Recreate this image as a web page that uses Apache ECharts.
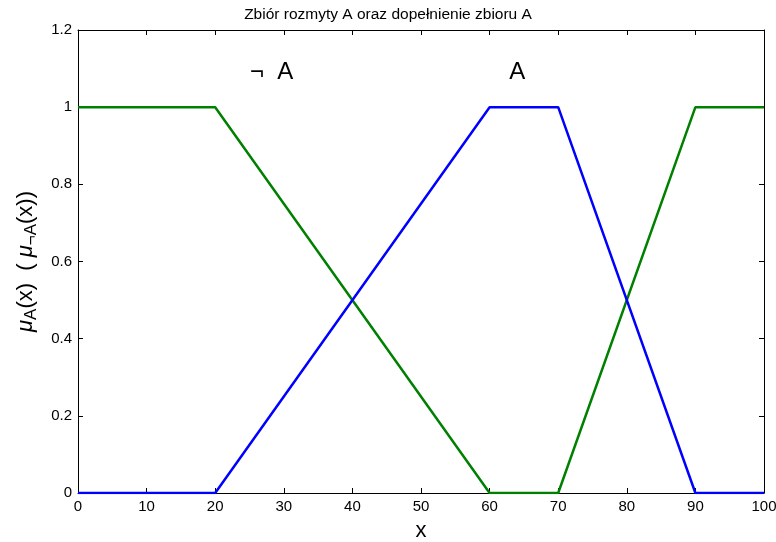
<!DOCTYPE html>
<html>
<head>
<meta charset="utf-8">
<script src="https://cdn.jsdelivr.net/npm/echarts@6/dist/echarts.min.js"></script>
<style>
  html, body { margin: 0; padding: 0; background: #fff; }
  #chart { width: 776px; height: 542px; }
</style>
</head>
<body>
<div id="chart"></div>
<script>
// Fuzzy set A and its complement (trapezoidal membership functions)
const xPoints = [0, 20, 60, 70, 90, 100];
const muA = [0, 0, 1, 1, 0, 0];
const muNotA = [1, 1, 0, 0, 1, 1];
const xTicks = [0, 10, 20, 30, 40, 50, 60, 70, 80, 90, 100];
const yTicks = [0, 0.2, 0.4, 0.6, 0.8, 1, 1.2];
const setLabels = [
  { x: 25, y: 1.09, text: '¬  A' },
  { x: 62.8, y: 1.09, text: 'A' }
];

const font = '"Liberation Sans Narrow", "Liberation Sans", Arial, sans-serif';
const sans = '"Liberation Sans", Arial, sans-serif';
const pairs = (ys) => xPoints.map((x, i) => [x, ys[i]]);

const axisCommon = {
  type: 'value',
  axisLine: { show: true, onZero: false, lineStyle: { color: '#000', width: 1 } },
  axisTick: { show: true, inside: true, length: 5, lineStyle: { color: '#000' } },
  splitLine: { show: false }
};

const chart = echarts.init(document.getElementById('chart'));
chart.setOption({
  animation: false,
  backgroundColor: '#fff',
  title: {
    text: 'Zbiór rozmyty A oraz dopełnienie zbioru A',
    left: 'center',
    top: 2,
    textStyle: { fontFamily: font, fontSize: 15.5, fontWeight: 'normal', color: '#000' }
  },
  grid: { left: 78, right: 12, top: 30, bottom: 49, outerBoundsMode: 'none', containLabel: false },
  xAxis: [
    Object.assign({}, axisCommon, {
      min: 0, max: 100, interval: 10,
      position: 'bottom',
      name: 'x',
      nameLocation: 'middle',
      nameGap: 27,
      nameTextStyle: { fontFamily: sans, fontSize: 22, color: '#000' },
      axisLabel: { color: '#000', fontFamily: font, fontSize: 15, margin: 6 }
    }),
    Object.assign({}, axisCommon, {
      min: 0, max: 100, interval: 10,
      position: 'top',
      axisLabel: { show: false }
    })
  ],
  yAxis: [
    Object.assign({}, axisCommon, {
      min: 0, max: 1.2, interval: 0.2,
      position: 'left',
      name: '{mu|μ}{sub|A}{p|(x)  ( }{mu|μ}{sub|¬A}{p|(x))}',
      nameLocation: 'middle',
      nameGap: 36,
      nameRotate: 90,
      nameTextStyle: {
        color: '#000',
        rich: {
          mu: { fontFamily: sans, fontStyle: 'italic', fontSize: 22, color: '#000' },
          sub: { fontFamily: sans, fontSize: 17, color: '#000', padding: [12, 0, 0, 0] },
          p: { fontFamily: sans, fontSize: 22, color: '#000' }
        }
      },
      axisLabel: {
        color: '#000', fontFamily: font, fontSize: 15, margin: 6,
        formatter: (v) => String(Math.round(v * 10) / 10)
      }
    }),
    Object.assign({}, axisCommon, {
      min: 0, max: 1.2, interval: 0.2,
      position: 'right',
      axisLabel: { show: false }
    })
  ],
  series: [
    {
      name: '¬A',
      type: 'line',
      data: pairs(muNotA),
      symbol: 'none',
      lineStyle: { color: '#008000', width: 2.5 },
      z: 2
    },
    {
      name: 'A',
      type: 'line',
      data: pairs(muA),
      symbol: 'none',
      lineStyle: { color: '#0000ff', width: 2.5 },
      z: 3
    },
    {
      type: 'scatter',
      data: setLabels.map(d => ({ value: [d.x, d.y], name: d.text })),
      symbolSize: 1,
      itemStyle: { opacity: 0 },
      silent: true,
      label: {
        show: true,
        position: 'right',
        distance: 0,
        formatter: (p) => p.name,
        fontFamily: sans,
        fontSize: 24,
        color: '#000',
        opacity: 1
      }
    }
  ]
});
</script>
</body>
</html>
